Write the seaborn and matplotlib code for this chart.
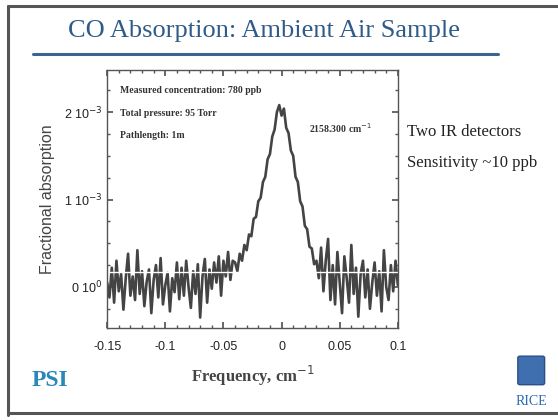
import numpy as np
import pandas as pd
import matplotlib.pyplot as plt
import seaborn as sns
from matplotlib.ticker import MultipleLocator
from matplotlib.patches import FancyBboxPatch

# frequency offset from line centre, in 1e-3 cm^-1
freq_milli = [-150, -148, -146, -144, -142, -140, -138, -136, -134, -132,
              -130, -128, -126, -124, -122, -120, -118, -116, -114, -112,
              -110, -108, -106, -104, -102, -100, -98, -96, -94, -92,
              -90, -88, -86, -84, -82, -80, -78, -76, -74, -72,
              -70, -68, -66, -64, -62, -60, -58, -56, -54, -52,
              -50, -48, -46, -44, -42, -40, -38, -36, -34, -32,
              -30, -28, -26, -24, -22, -20, -18, -16, -14, -12,
              -10, -8, -6, -4, -2, 0, 2, 4, 6, 8,
              10, 12, 14, 16, 18, 20, 22, 24, 26, 28,
              30, 32, 34, 36, 38, 40, 42, 44, 46, 48,
              50, 52, 54, 56, 58, 60, 62, 64, 66, 68,
              70, 72, 74, 76, 78, 80, 82, 84, 86, 88,
              90, 92, 94, 96, 98, 100]

# fractional absorption, in 1e-3
base_left = [0.05, -0.12, 0.22, -0.18, 0.30, -0.05, 0.15, -0.26, 0.10, 0.38,
             -0.10, 0.12, -0.15, 0.42, -0.08, 0.18, -0.22, 0.06, 0.20, -0.30,
             0.08, 0.25, -0.12, 0.33, -0.20, 0.02, 0.16, -0.28, 0.10, -0.06,
             0.28, -0.14, 0.22, -0.10, 0.30, 0.00, -0.24, 0.18, -0.08, 0.26,
             -0.35, 0.12, 0.32, -0.18, 0.20]
wing_left = [-0.02, 0.28, 0.05, 0.35, -0.10, 0.30, 0.12, 0.40, 0.08, 0.30]
peak = [0.28, 0.18, 0.38, 0.30, 0.48, 0.42, 0.60, 0.58, 0.78, 0.80,
        0.98, 1.02, 1.20, 1.26, 1.46, 1.52, 1.72, 1.80, 2.00, 2.08,
        1.96, 2.04, 1.82, 1.76, 1.56, 1.50, 1.26, 1.20, 0.98, 0.92,
        0.70, 0.66, 0.46, 0.44, 0.26, 0.30]
base_right = [0.10, 0.45, -0.05, 0.30, 0.55, -0.15, 0.25, -0.20, 0.40, 0.05,
              -0.30, 0.35, 0.10, -0.18, 0.48, -0.08, 0.22, -0.34, 0.15, 0.30,
              -0.12, 0.20, -0.25, 0.05, 0.28, -0.10, 0.18, -0.28, 0.42, 0.00,
              -0.15, 0.25, -0.05, 0.30, 0.02]
fit_level = 0.17

absorb_milli = base_left + wing_left + peak + base_right

df = pd.DataFrame({
    'freq': np.array(freq_milli) / 1000.0,
    'absorb': np.array(absorb_milli) / 1000.0,
})

sns.set_theme(style="ticks")
plt.rcParams['font.family'] = ['Liberation Sans', 'DejaVu Sans']
serif = ['Liberation Serif', 'DejaVu Serif']

fig = plt.figure(figsize=(5.58, 4.2), dpi=100)
fig.patch.set_facecolor('white')

# slide frame
border = '#555555'
fig.add_artist(plt.Line2D([0.014, 0.014], [0.012, 0.985], color=border, lw=2.2))
fig.add_artist(plt.Line2D([0.014, 1.0], [0.985, 0.985], color=border, lw=2.2))
fig.add_artist(plt.Line2D([0.014, 1.0], [0.017, 0.017], color=border, lw=2.2))

# title and rule
fig.text(0.473, 0.925, 'CO Absorption: Ambient Air Sample', ha='center', va='center',
         fontsize=19, color='#2f5b88', family=serif)
fig.add_artist(plt.Line2D([0.06, 0.893], [0.871, 0.871], color='#3b6590', lw=2.2))

ax = fig.add_axes([0.192, 0.219, 0.521, 0.614])
sns.lineplot(data=df, x='freq', y='absorb', ax=ax, color='#444444', lw=1.9)
ax.axhline(fit_level / 1000.0, color='white', lw=1.0)

ax.set_xlim(-0.15, 0.1)
ax.set_ylim(-0.47e-3, 2.48e-3)
ax.set_xticks([-0.15, -0.1, -0.05, 0, 0.05, 0.1])
ax.set_xticklabels(['-0.15', '-0.1', '-0.05', '0', '0.05', '0.1'])
ax.set_yticks([0, 1e-3, 2e-3])
ax.set_yticklabels(['0 10$^{0}$', '1 10$^{-3}$', '2 10$^{-3}$'])
ax.xaxis.set_minor_locator(MultipleLocator(0.01))
ax.yaxis.set_minor_locator(MultipleLocator(0.25e-3))
ax.tick_params(which='both', direction='in', top=True, right=True, colors='#555555',
               labelcolor='#222222', labelsize=9)
ax.tick_params(which='major', length=4)
ax.tick_params(which='minor', length=2)
ax.tick_params(axis='x', pad=9)
for s in ax.spines.values():
    s.set_color('#555555')
    s.set_linewidth(1.0)

ax.set_xlabel('Frequency, cm$^{-1}$', fontsize=12, color='#444444', labelpad=8,
              family=serif, fontweight='bold')
ax.set_ylabel('Fractional absorption', fontsize=11.5, color='#444444', labelpad=6)

for txt, yy in [('Measured concentration: 780 ppb', 0.92),
                ('Total pressure: 95 Torr', 0.83),
                ('Pathlength: 1m', 0.745)]:
    ax.text(0.045, yy, txt, transform=ax.transAxes, fontsize=7, fontweight='bold',
            family=serif, color='#333333', va='center')
ax.text(0.695, 0.775, '2158.300 cm$^{-1}$', transform=ax.transAxes, fontsize=7,
        fontweight='bold', family=serif, color='#333333', va='center')

fig.text(0.729, 0.685, 'Two IR detectors', fontsize=12, family=serif, color='#222222', va='center')
fig.text(0.729, 0.612, 'Sensitivity ~10 ppb', fontsize=12, family=serif, color='#222222', va='center')

# logos
fig.text(0.09, 0.093, 'PSI', fontsize=17, fontweight='bold', family=serif,
         color='#2a88b8', ha='center', va='center')
fig.add_artist(FancyBboxPatch((0.932, 0.088), 0.04, 0.06, boxstyle='round,pad=0.004',
                              facecolor='#3f6fae', edgecolor='#2a4f88', transform=fig.transFigure))
fig.text(0.952, 0.045, 'RICE', fontsize=10, family=serif, color='#2a6ab8',
         ha='center', va='center')

fig.savefig('out.png', dpi=100, facecolor='white')
